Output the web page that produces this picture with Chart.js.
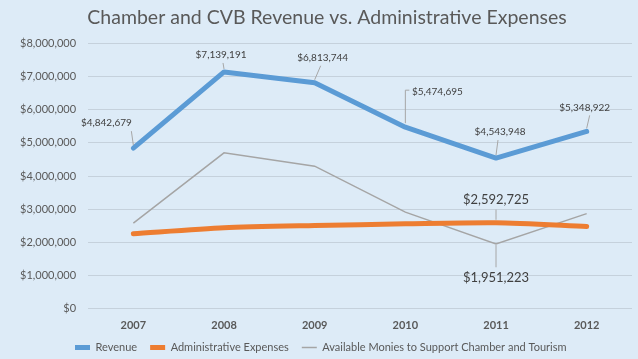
<!DOCTYPE html>
<html>
<head>
<meta charset="utf-8">
<script src="https://cdn.jsdelivr.net/npm/chart.js@4.4.1/dist/chart.umd.min.js"></script>
<style>
  html, body { margin: 0; padding: 0; background: #ddebf7; }
  #wrap { width: 638px; height: 359px; }
</style>
</head>
<body>
<div id="wrap"><canvas id="chart"></canvas></div>
<script>
// -------------------- DATA -------------------
let Years = ['2007', '2008', '2009', '2010', '2011', '2012'];
let Revenue = [4842679, 7139191, 6813744, 5474695, 4543948, 5348922];
let AdminExpenses = [2260000, 2440000, 2510000, 2560000, 2592725, 2480000];
let AvailableMonies = [2580000, 4700000, 4300000, 2915000, 1951223, 2870000];
let YTicks = [0, 1000000, 2000000, 3000000, 4000000, 5000000, 6000000, 7000000, 8000000];

// which points carry a label, where the label sits relative to the point (px),
// and where the leader line meets the label (tx)
let LabelSpots = [
  { ds: 0, i: 0, dx: -27, dy: -25, tx: -2, size: 10 },
  { ds: 0, i: 1, dx: -3,  dy: -17, tx: -1, size: 10 },
  { ds: 0, i: 2, dx: 8,   dy: -25, tx: 6,  size: 10 },
  { ds: 0, i: 3, dx: 32,  dy: -35, tx: 0,  size: 10, elbow: true },
  { ds: 0, i: 4, dx: 4,   dy: -26, tx: 2,  size: 10 },
  { ds: 0, i: 5, dx: -2,  dy: -24, tx: 3,  size: 10 },
  { ds: 1, i: 4, dx: 0,   dy: -23, tx: 0,  size: 13 },
  { ds: 2, i: 4, dx: 0,   dy: 34,  tx: 0,  size: 13 }
];

function money(v) {
  return '$' + Math.round(v).toLocaleString('en-US');
}

// -------------------- PLUGINS -------------------
let DataLabels = {
  id: 'dataLabels',
  afterDatasetsDraw(chart) {
    let ctx = chart.ctx;
    ctx.save();
    LabelSpots.forEach(s => {
      let pt = chart.getDatasetMeta(s.ds).data[s.i];
      let value = chart.data.datasets[s.ds].data[s.i];
      let lx = pt.x + s.dx;
      let ly = pt.y + s.dy;
      let half = s.size * 0.6;
      ctx.strokeStyle = '#a6a6a6';
      ctx.lineWidth = 1;
      ctx.beginPath();
      if (s.elbow) {
        ctx.moveTo(pt.x, pt.y - 4);
        ctx.lineTo(pt.x, ly - 2);
        ctx.lineTo(pt.x + 4, ly - 2);
      } else if (s.dy < 0) {
        ctx.moveTo(pt.x, pt.y - 3);
        ctx.lineTo(pt.x + s.tx, ly + half + 2);
      } else {
        ctx.moveTo(pt.x, pt.y + 1);
        ctx.lineTo(pt.x + s.tx, ly - half - 3);
      }
      ctx.stroke();
      ctx.fillStyle = '#404040';
      ctx.font = s.size + 'px Lato';
      ctx.textAlign = 'center';
      ctx.textBaseline = 'middle';
      ctx.fillText(money(value), lx, ly);
    });
    ctx.restore();
  }
};

// place legend and title like the original
let BoxShift = {
  id: 'boxShift',
  afterLayout(chart) {
    let lg = chart.legend;
    let w = lg.right - lg.left;
    let h = lg.bottom - lg.top;
    lg.left = 62;
    lg.right = lg.left + w;
    lg.top = 329;
    lg.bottom = lg.top + h;
    chart.titleBlock.left += 14;
  }
};

// -------------------- CHART -------------------
let ChartCanvas = document.getElementById('chart');
let MainChart = new Chart(ChartCanvas, {
  type: 'line',
  data: {
    labels: Years,
    datasets: [{
      label: 'Revenue',
      data: Revenue,
      borderColor: '#5b9bd5',
      backgroundColor: '#5b9bd5',
      borderWidth: 5,
      borderCapStyle: 'round',
      borderJoinStyle: 'round',
      pointRadius: 0,
      tension: 0,
      fill: false
    }, {
      label: 'Administrative Expenses',
      data: AdminExpenses,
      borderColor: '#ed7d31',
      backgroundColor: '#ed7d31',
      borderWidth: 5,
      borderCapStyle: 'round',
      borderJoinStyle: 'round',
      pointRadius: 0,
      tension: 0.25,
      fill: false
    }, {
      label: 'Available Monies to Support Chamber and Tourism',
      data: AvailableMonies,
      borderColor: '#a5a5a5',
      backgroundColor: '#a5a5a5',
      borderWidth: 1.5,
      pointRadius: 0,
      tension: 0,
      fill: false
    }]
  },
  options: {
    responsive: true,
    maintainAspectRatio: false,
    animation: false,
    layout: { padding: { left: 8, right: 6, top: 4, bottom: -17 } },
    plugins: {
      title: {
        display: true,
        text: 'Chamber and CVB Revenue vs. Administrative Expenses',
        color: '#595959',
        font: { family: 'Lato', size: 19.5, weight: 'normal' },
        padding: { top: 2, bottom: 14 }
      },
      legend: {
        position: 'bottom',
        align: 'start',
        labels: {
          usePointStyle: true,
          pointStyle: 'line',
          pointStyleWidth: 15,
          color: '#595959',
          font: { family: 'Lato', size: 11 },
          padding: 13,
          boxHeight: 5
        }
      },
      tooltip: { enabled: false }
    },
    scales: {
      x: {
        offset: true,
        grid: { display: false, drawTicks: false },
        border: { display: false },
        ticks: {
          color: '#595959',
          font: { family: 'Lato', size: 11, weight: 'bold' },
          padding: 10
        }
      },
      y: {
        min: 0,
        max: 8000000,
        afterBuildTicks: axis => { axis.ticks = YTicks.map(v => ({ value: v })); },
        grid: { color: '#c5d1dc', drawTicks: false },
        border: { display: false },
        ticks: {
          color: '#595959',
          font: { family: 'Lato', size: 11 },
          padding: 12,
          callback: v => money(v)
        }
      }
    }
  },
  plugins: [DataLabels, BoxShift]
});
</script>
</body>
</html>
